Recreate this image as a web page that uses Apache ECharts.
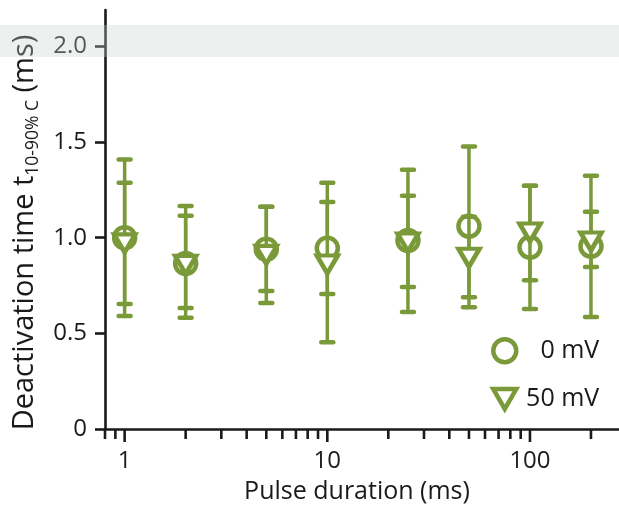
<!DOCTYPE html>
<html>
<head>
<meta charset="utf-8">
<script src="https://cdn.jsdelivr.net/npm/echarts@6/dist/echarts.min.js"></script>
<style>
html,body{margin:0;padding:0;background:#fff;}
#chart{width:619px;height:515px;}
</style>
</head>
<body>
<div id="chart"></div>
<script>
// ---- data ----
const durations = [1, 2, 5, 10, 25, 50, 100, 200];
const mean0  = [1.00, 0.865, 0.94, 0.945, 0.985, 1.06, 0.95, 0.955];
const low0   = [0.59, 0.582, 0.721, 0.705, 0.611, 0.637, 0.627, 0.585];
const high0  = [1.408, 1.165, 1.161, 1.187, 1.355, 1.476, 1.271, 1.324];
const mean50 = [0.97, 0.858, 0.91, 0.86, 0.975, 0.895, 1.027, 0.98];
const low50  = [0.653, 0.632, 0.658, 0.453, 0.742, 0.689, 0.778, 0.847];
const high50 = [1.287, 1.115, 1.161, 1.287, 1.219, 1.11, 1.271, 1.135];
const yTicks = [0, 0.5, 1.0, 1.5, 2.0];
const xMajor = [1, 10, 100];
const xTicks = [0.8, 0.9, 1, 2, 3, 4, 5, 6, 7, 8, 9, 10, 20, 30, 40, 50, 60, 70, 80, 90, 100, 200];
const seriesNames = ['0 mV', '50 mV'];

const GREEN = '#7a9a3a';
const INK = '#1a1a1a';
const FONT = 'Open Sans';
const TRI = 'path://M0,0 L22,0 L11,19 Z';

const chart = echarts.init(document.getElementById('chart'), null, {renderer: 'canvas'});

function errorBars(lo, hi) {
  return durations.map((d, i) => [d, lo[i], hi[i]]);
}
function renderErr(params, api) {
  const x = api.value(0);
  const pLo = api.coord([x, api.value(1)]);
  const pHi = api.coord([x, api.value(2)]);
  const style = {stroke: GREEN, lineWidth: 4.5, lineCap: 'round'};
  const cw = 6;
  return {
    type: 'group',
    children: [
      {type: 'line', shape: {x1: pLo[0], y1: pLo[1], x2: pHi[0], y2: pHi[1]}, style: {stroke: GREEN, lineWidth: 3.5}},
      {type: 'line', shape: {x1: pHi[0] - cw, y1: pHi[1], x2: pHi[0] + cw, y2: pHi[1]}, style: style},
      {type: 'line', shape: {x1: pLo[0] - cw, y1: pLo[1], x2: pLo[0] + cw, y2: pLo[1]}, style: style}
    ]
  };
}
function renderTick(params, api) {
  const v = api.value(0);
  const p = api.coord([v, 0]);
  const len = xMajor.indexOf(v) >= 0 ? 13 : 10;
  return {type: 'line', shape: {x1: p[0], y1: p[1], x2: p[0], y2: p[1] + len},
          style: {stroke: INK, lineWidth: 2.6}};
}

const option = {
  backgroundColor: '#fff',
  animation: false,
  grid: {left: 105, right: 0, top: 10, bottom: 86, outerBoundsMode: 'none'},
  xAxis: {
    type: 'log', logBase: 10, min: 0.8, max: 275,
    name: 'Pulse duration (ms)', nameLocation: 'middle', nameGap: 50,
    nameTextStyle: {fontFamily: FONT, fontSize: 25, color: INK, padding: [0, 10, 0, 0]},
    axisLine: {show: true, onZero: false, lineStyle: {color: INK, width: 2.6}},
    axisTick: {show: false},
    splitLine: {show: false},
    minorTick: {show: false},
    axisLabel: {
      margin: 20, fontFamily: FONT, fontSize: 24, color: INK,
      showMinLabel: false, showMaxLabel: false,
      formatter: v => (xMajor.indexOf(v) >= 0 ? String(v) : '')
    }
  },
  yAxis: {
    type: 'value', min: 0, max: 2.19,
    name: '{a|Deactivation time t}{b|10-90% C}{a| (ms)}',
    nameLocation: 'middle', nameGap: 54, nameRotate: 90,
    nameTextStyle: {
      padding: [0, 26, 0, 0],
      rich: {
        a: {fontFamily: FONT, fontSize: 29, color: INK, lineHeight: 35},
        b: {fontFamily: FONT, fontSize: 17.5, color: INK, lineHeight: 14, verticalAlign: 'bottom'}
      }
    },
    axisLine: {show: true, onZero: false, lineStyle: {color: INK, width: 2.6}},
    axisTick: {show: true, length: 10, customValues: yTicks, lineStyle: {color: INK, width: 2.6}},
    splitLine: {show: false},
    axisLabel: {
      customValues: yTicks, margin: 18, fontFamily: FONT, fontSize: 24, color: INK,
      formatter: v => (v === 0 ? '0' : v.toFixed(1))
    }
  },
  legend: {
    orient: 'vertical', left: 486, top: 332, itemGap: 22, padding: 5,
    itemWidth: 23, itemHeight: 23,
    data: [{name: seriesNames[0], icon: 'circle'}, {name: seriesNames[1], icon: TRI}],
    itemStyle: {color: '#fff', borderColor: GREEN, borderWidth: 4.5},
    formatter: n => '{t|' + n + '}',
    textStyle: {
      rich: {t: {fontFamily: FONT, fontSize: 25, color: INK, width: 78, align: 'right', lineHeight: 23}}
    }
  },
  series: [
    {type: 'custom', name: 'ticks', renderItem: renderTick, data: xTicks.map(v => [v]),
     encode: {x: 0}, silent: true, z: 1, clip: false},
    {type: 'custom', name: seriesNames[0], renderItem: renderErr, data: errorBars(low0, high0),
     encode: {x: 0, y: [1, 2]}, z: 2},
    {type: 'scatter', name: seriesNames[0], symbol: 'circle', symbolSize: 21,
     data: durations.map((d, i) => [d, mean0[i]]),
     itemStyle: {color: '#fff', borderColor: GREEN, borderWidth: 4.5, opacity: 1}, z: 3},
    {type: 'custom', name: seriesNames[1], renderItem: renderErr, data: errorBars(low50, high50),
     encode: {x: 0, y: [1, 2]}, z: 4},
    {type: 'scatter', name: seriesNames[1], symbol: TRI, symbolSize: [21, 18],
     data: durations.map((d, i) => [d, mean50[i]]),
     itemStyle: {color: '#fff', borderColor: GREEN, borderWidth: 4.5, opacity: 1}, z: 5}
  ],
  graphic: [
    {type: 'rect', z: 100, silent: true, shape: {x: 0, y: 25, width: 619, height: 32},
     style: {fill: 'rgba(200,208,205,0.33)'}}
  ]
};
chart.setOption(option);
</script>
</body>
</html>
